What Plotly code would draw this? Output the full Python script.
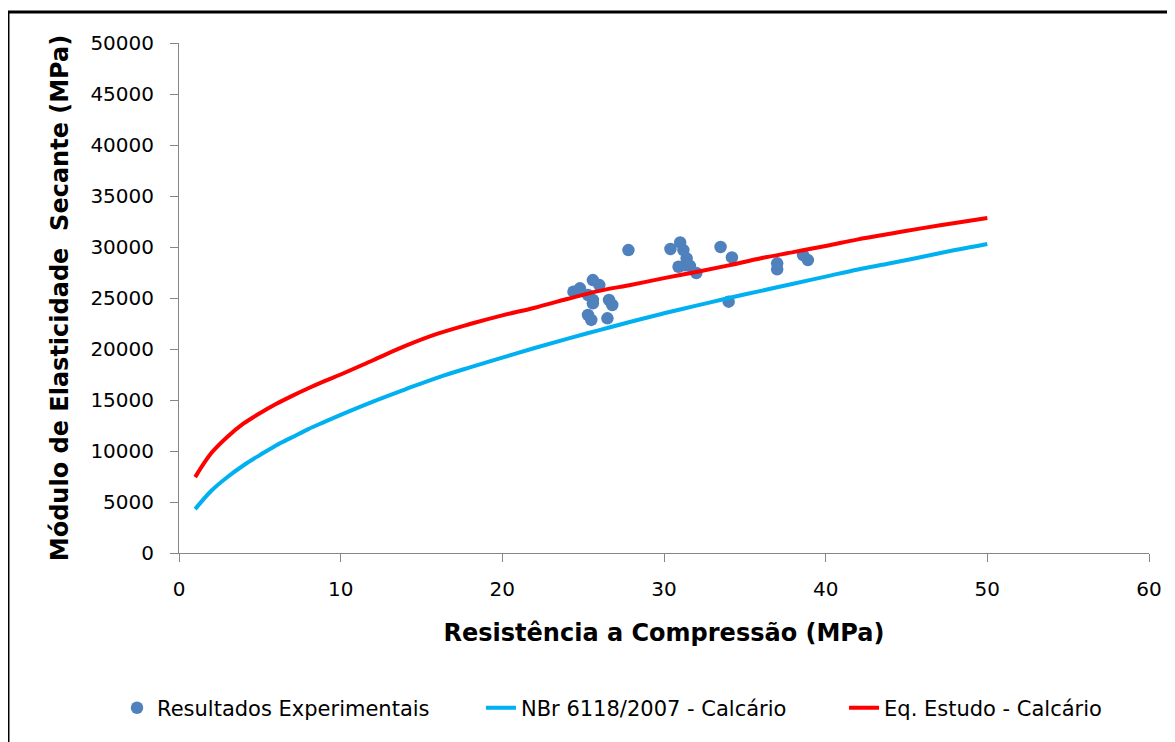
import plotly.graph_objects as go

exp_fc = [24.4, 24.8, 25.6, 26.0, 25.3, 25.6, 25.6, 26.6, 26.8, 25.3, 25.5, 26.5,
          27.8, 30.4, 31.0, 31.2, 31.4, 30.9, 31.6, 31.3, 32.0, 33.5, 34.2, 34.0,
          37.0, 37.0, 38.6, 38.9]
exp_E = [25620, 25950, 26760, 26270, 25290, 24800, 24480, 24800, 24310, 23330, 22850, 23010,
         29700, 29800, 30450, 29700, 28890, 28060, 28150, 28200, 27450, 30000, 28980, 24640,
         28400, 27810, 29210, 28720]

# Curves
curve_fc = [1, 2, 3, 4, 5, 6, 7, 8, 9, 10, 12, 14, 16, 18, 20, 22, 24, 26, 28, 30,
            32, 34, 36, 38, 40, 42, 44, 46, 48, 50]
nbr_E = [4300, 6100, 7450, 8600, 9600, 10550, 11350, 12150, 12850, 13550, 14850, 16050,
         17200, 18200, 19150, 20100, 21000, 21850, 22700, 23500, 24250, 25000, 25700,
         26400, 27100, 27800, 28400, 29050, 29700, 30300]
estudo_E = [7440, 9800, 11400, 12700, 13700, 14600, 15400, 16150, 16850, 17500, 18900,
            20300, 21500, 22450, 23300, 24050, 24900, 25700, 26300, 26950, 27550, 28200,
            28900, 29500, 30100, 30750, 31300, 31850, 32350, 32850]

fig = go.Figure()
fig.add_trace(go.Scatter(x=exp_fc, y=exp_E, mode="markers", name="Resultados Experimentais",
                         marker=dict(color="#4F81BD", size=12.5), legend="legend"))
fig.add_trace(go.Scatter(x=curve_fc, y=nbr_E, mode="lines", name="NBr 6118/2007 - Calcário",
                         line=dict(color="#00B0F0", width=4, shape="spline"), legend="legend2"))
fig.add_trace(go.Scatter(x=curve_fc, y=estudo_E, mode="lines", name="Eq. Estudo - Calcário",
                         line=dict(color="#FF0000", width=4, shape="spline"), legend="legend3"))

axis_common = dict(showline=True, linecolor="#868686", linewidth=1, ticks="outside",
                   tickcolor="#868686", ticklen=8, showgrid=False, zeroline=False,
                   tickfont=dict(family="DejaVu Sans", size=20, color="#000000"))

legend_common = dict(orientation="h", y=-0.264, xanchor="left", yanchor="top",
                     font=dict(family="DejaVu Sans", size=21, color="#000000"),
                     bgcolor="rgba(0,0,0,0)")

fig.update_layout(
    width=1167, height=734,
    margin=dict(l=171, r=26, t=35, b=189),
    paper_bgcolor="white", plot_bgcolor="white",
    showlegend=True,
    legend=dict(x=-0.0639, **legend_common),
    legend2=dict(x=0.3113, **legend_common),
    legend3=dict(x=0.6856, **legend_common),
    xaxis=dict(range=[0, 60], dtick=10, tick0=0, ticklabelstandoff=10,
               title=dict(text="Resistência a Compressão (MPa)", standoff=24,
                          font=dict(family="DejaVu Sans", size=24, color="#000000", weight="bold")),
               **axis_common),
    yaxis=dict(range=[0, 50000], dtick=5000, tick0=0, tickformat="d", ticklabelstandoff=12,
               title=dict(text="Módulo de Elasticidade  Secante (MPa)", standoff=14,
                          font=dict(family="DejaVu Sans", size=24, color="#000000", weight="bold")),
               **axis_common),
    shapes=[dict(type="rect", xref="paper", yref="paper", x0=-0.1763, x1=1.05,
                 y0=-0.45, y1=1.0607, line=dict(color="black", width=3),
                 fillcolor="rgba(0,0,0,0)", layer="below")],
)

fig.write_html("out.html")
